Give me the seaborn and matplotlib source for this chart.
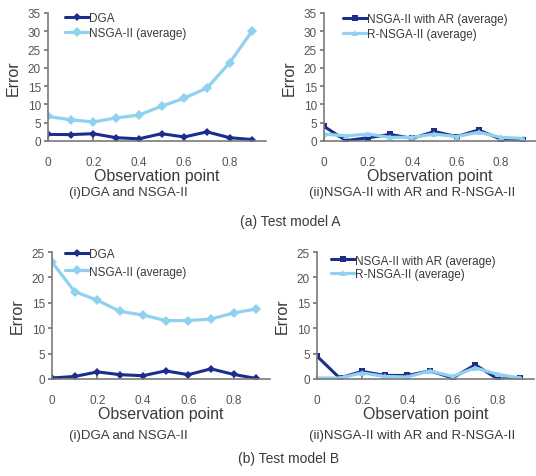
import numpy as np
import pandas as pd
import matplotlib
matplotlib.use('Agg')
import matplotlib.pyplot as plt
import seaborn as sns

# observation points (x axis)
obs = [0.0, 0.1, 0.2, 0.3, 0.4, 0.5, 0.6, 0.7, 0.8, 0.9]
xtick_vals = [0.0, 0.2, 0.4, 0.6, 0.8]
xtick_labels = ['0', '0.2', '0.4', '0.6', '0.8']

# test model A
a_dga = [1.8, 1.75, 2.0, 0.9, 0.6, 2.0, 1.1, 2.5, 0.9, 0.4]
a_nsga = [6.7, 5.8, 5.2, 6.3, 7.1, 9.5, 11.7, 14.5, 21.4, 30.2]
a_ar = [4.0, 0.1, 0.9, 1.8, 0.7, 2.6, 1.2, 3.0, 0.5, 0.4]
a_rnsga = [1.9, 1.4, 1.9, 1.0, 1.0, 1.9, 1.2, 2.4, 1.0, 0.7]

# test model B
b_dga = [0.2, 0.5, 1.4, 0.85, 0.65, 1.6, 0.85, 2.0, 0.9, 0.1]
b_nsga = [23.0, 17.2, 15.5, 13.3, 12.6, 11.5, 11.5, 11.8, 13.0, 13.8]
b_ar = [4.5, 0.2, 1.5, 0.7, 0.7, 1.6, 0.2, 2.8, 0.0, 0.1]
b_rnsga = [0.2, 0.2, 1.2, 0.5, 0.4, 1.6, 0.5, 2.2, 0.9, 0.2]

dark = '#1c2d8c'
light = '#8fd1ef'
txt = '#3a3a3a'

sns.set_theme(style='white')
plt.rcParams['font.family'] = ['Liberation Sans', 'DejaVu Sans']

W, H = 536, 477
fig = plt.figure(figsize=(W / 100, H / 100), dpi=100)


def px_axes(left, top, width, bottom):
    return fig.add_axes([left / W, (H - bottom) / H, width / W, (bottom - top) / H])


def style_ax(ax, ymax, leg_anchor, leg_space):
    ax.set_xlim(0, 0.96)
    ax.set_ylim(0, ymax)
    ax.set_xticks(xtick_vals)
    ax.set_xticklabels(xtick_labels)
    ax.set_yticks(np.arange(0, ymax + 1, 5))
    for s in ['top', 'right']:
        ax.spines[s].set_visible(False)
    for s in ['left', 'bottom']:
        ax.spines[s].set_color('#7a7a7a')
        ax.spines[s].set_linewidth(1.2)
    ax.tick_params(axis='x', direction='in', length=3, pad=11, labelsize=8.5,
                   colors='#7a7a7a', labelcolor='#555555', bottom=True)
    ax.tick_params(axis='y', direction='out', length=3, pad=2, labelsize=8.5,
                   colors='#7a7a7a', labelcolor='#555555', left=True)
    ax.set_xlabel('Observation point', fontsize=11.5, color=txt, labelpad=0)
    ax.set_ylabel('Error', fontsize=11.5, color=txt, labelpad=5)
    ax.legend(loc='upper left', bbox_to_anchor=leg_anchor, frameon=False,
              fontsize=8.5, handlelength=2.0, handletextpad=0.05,
              borderpad=0, borderaxespad=0, labelspacing=leg_space,
              labelcolor=txt)


def draw(ax, y1, y2, lab1, lab2, m1, m2):
    sns.lineplot(x=obs, y=y1, ax=ax, color=dark, marker=m1, markersize=4.5,
                 markeredgewidth=0, linewidth=2.2, label=lab1)
    sns.lineplot(x=obs, y=y2, ax=ax, color=light, marker=m2, markersize=5,
                 markeredgewidth=0, linewidth=2.3, label=lab2)


# (a) test model A
ax1 = px_axes(48, 14, 218, 142)
draw(ax1, a_dga, a_nsga, 'DGA', 'NSGA-II (average)', 'D', 'D')
style_ax(ax1, 35, (0.078, 1.01), 0.25)

ax2 = px_axes(324, 14, 212, 142)
draw(ax2, a_ar, a_rnsga, 'NSGA-II with AR (average)', 'R-NSGA-II (average)', 's', '^')
style_ax(ax2, 35, (0.09, 1.0), 0.25)

# (b) test model B
ax3 = px_axes(52, 253, 218, 380)
draw(ax3, b_dga, b_nsga, 'DGA', 'NSGA-II (average)', 'D', 'D')
style_ax(ax3, 25, (0.06, 1.03), 0.45)

ax4 = px_axes(317, 253, 217, 380)
draw(ax4, b_ar, b_rnsga, 'NSGA-II with AR (average)', 'R-NSGA-II (average)', 's', '^')
style_ax(ax4, 25, (0.065, 0.98), 0.15)

# sub captions
fig.text(128 / W, 1 - 193 / H, '(i)DGA and NSGA-II', ha='center', va='center',
         fontsize=9.5, color=txt)
fig.text(412 / W, 1 - 193 / H, '(ii)NSGA-II with AR and R-NSGA-II', ha='center',
         va='center', fontsize=9.5, color=txt)
fig.text(290 / W, 1 - 222 / H, '(a) Test model A', ha='center', va='center',
         fontsize=10, color=txt)
fig.text(128 / W, 1 - 436 / H, '(i)DGA and NSGA-II', ha='center', va='center',
         fontsize=9.5, color=txt)
fig.text(412 / W, 1 - 436 / H, '(ii)NSGA-II with AR and R-NSGA-II', ha='center',
         va='center', fontsize=9.5, color=txt)
fig.text(289 / W, 1 - 459 / H, '(b) Test model B', ha='center', va='center',
         fontsize=10, color=txt)

fig.savefig('out.png', dpi=100, facecolor='white')
